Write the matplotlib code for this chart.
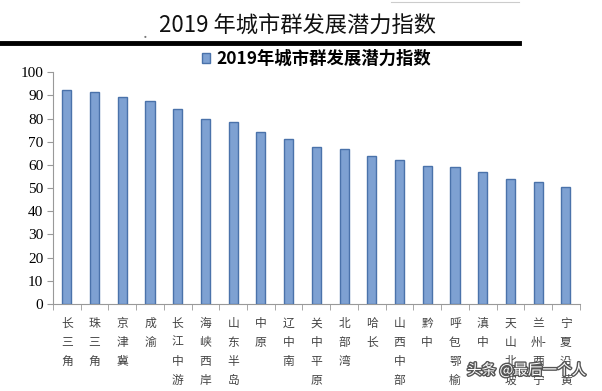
import numpy as np
import matplotlib
matplotlib.use('Agg')
import matplotlib.pyplot as plt
import matplotlib.patheffects as pe

plt.rcParams['font.family'] = ['Noto Sans CJK SC', 'DejaVu Sans']

# city clusters and their 2019 potential index
regions = ['长三角', '珠三角', '京津冀', '成渝', '长江中游', '海峡西岸', '山东半岛',
           '中原', '辽中南', '关中平原', '北部湾', '哈长', '山西中部', '黔中',
           '呼包鄂榆', '滇中', '天山北坡', '兰州-西宁', '宁夏沿黄']
index_2019 = [92.4, 91.4, 89.3, 87.6, 83.9, 79.8, 78.5, 74.1, 71.1, 67.9,
              66.8, 64.0, 62.3, 59.6, 59.3, 57.1, 54.1, 52.8, 50.5]
yticks = list(range(0, 101, 10))
title = '2019 年城市群发展潜力指数'
series_name = '2019年城市群发展潜力指数'


def vertical(s):
    # stack the characters, keep a dash on the character before it
    out = []
    for ch in s:
        if ch == '-' and out:
            out[-1] += ch
        else:
            out.append(ch)
    return '\n'.join(out)


fig = plt.figure(figsize=(6.02, 3.91), dpi=100)
ax = fig.add_axes([0.088, 0.2225, 0.875, 0.593])

x = np.arange(len(regions))
ax.bar(x, index_2019, width=0.33, color='#7ea1d2', edgecolor='#4a72aa',
       linewidth=1.0, label=series_name, zorder=3)

ax.set_xlim(-0.5, len(regions) - 0.5)
ax.set_ylim(0, 100)
ax.set_yticks(yticks)
ax.set_yticklabels([str(t) for t in yticks], family='Liberation Serif', fontsize=11)
ax.set_xticks(x)
ax.set_xticklabels([vertical(r) for r in regions], fontsize=8.5,
                   linespacing=1.6, va='top', color='#444444')
ax.set_xticks(np.arange(-0.5, len(regions), 1), minor=True)
ax.tick_params(axis='x', which='major', length=0, pad=9)
ax.tick_params(axis='x', which='minor', length=4, color='#999999')
ax.tick_params(axis='y', length=4, color='#999999', pad=3)

for side in ['top', 'right']:
    ax.spines[side].set_visible(False)
ax.spines['left'].set_color('#999999')
ax.spines['bottom'].set_color('#999999')

leg = ax.legend(loc='center', bbox_to_anchor=(0.5, 1.056), frameon=False,
                handlelength=0.45, handleheight=0.45, handletextpad=0.35,
                borderpad=0,
                prop={'family': ['Noto Sans CJK SC'], 'weight': 'bold', 'size': 12.5})

# page title and rule above the chart
fig.text(0.495, 0.935, title, ha='center', va='center', fontsize=16, color='#111111')
fig.text(0.241, 0.915, '.', ha='center', va='center', fontsize=12, color='#777777')
fig.add_artist(plt.Line2D([0.0, 0.862], [0.889, 0.889], color='black', linewidth=3.5))
fig.add_artist(plt.Line2D([0.65, 0.862], [0.995, 0.995], color='#cccccc', linewidth=0.8))

fig.text(0.875, 0.053, '头条 @最后一个人', ha='center', va='center', fontsize=10.5,
         color='white', path_effects=[pe.withStroke(linewidth=2, foreground='#555555')])

plt.savefig('out.png', dpi=100)
